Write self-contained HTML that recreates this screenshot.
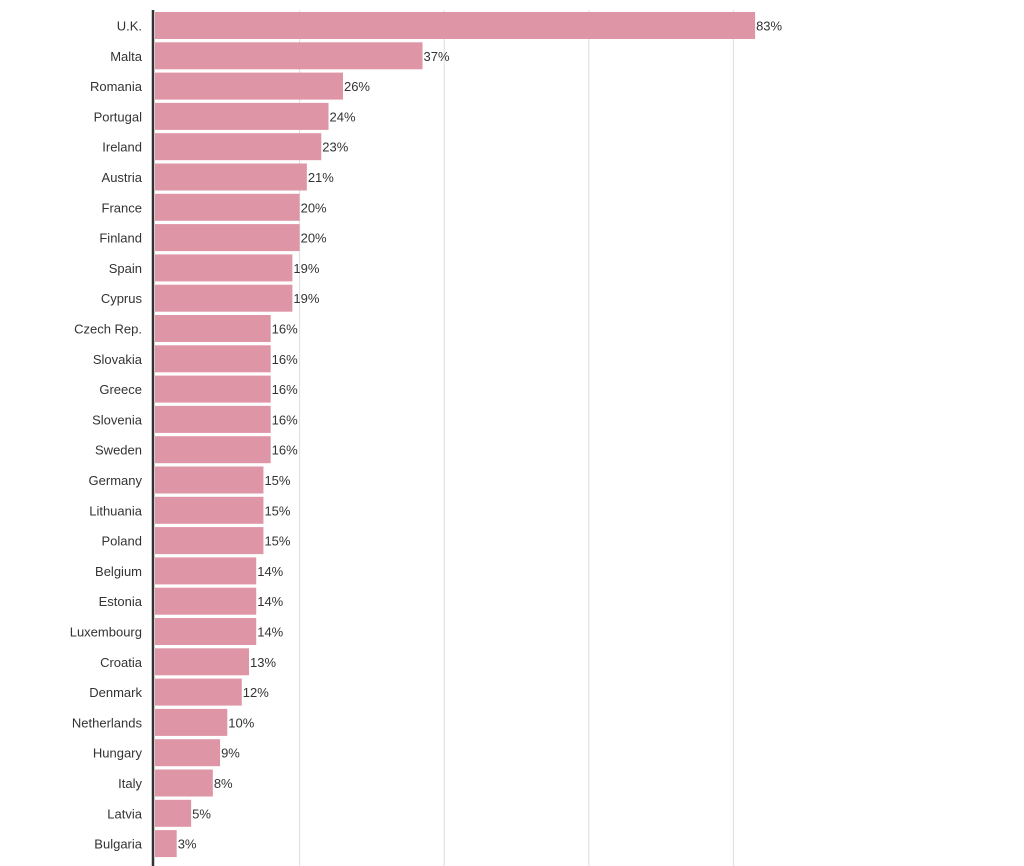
<!DOCTYPE html>
<html><head><meta charset="utf-8"><style>
html,body{margin:0;padding:0;background:#fff;width:1024px;height:866px;overflow:hidden}
svg{display:block}
text{font-family:"Liberation Sans",sans-serif;font-size:13px;fill:#333}
</style></head><body>
<svg id="chart" width="1024" height="866"></svg>
<script>
const categories=["U.K.","Malta","Romania","Portugal","Ireland","Austria","France","Finland","Spain","Cyprus","Czech Rep.","Slovakia","Greece","Slovenia","Sweden","Germany","Lithuania","Poland","Belgium","Estonia","Luxembourg","Croatia","Denmark","Netherlands","Hungary","Italy","Latvia","Bulgaria"];
const values=[83,37,26,24,23,21,20,20,19,19,16,16,16,16,16,15,15,15,14,14,14,13,12,10,9,8,5,3];
const gridTicks=[20,40,60,80];
const NS="http://www.w3.org/2000/svg";
const svg=document.getElementById('chart');
const x0=155,k=7.23,top0=12,pitch=30.3,bh=27;
const xs=v=>x0+v*k;
const ys=i=>top0+i*pitch;
function mk(t,a){const e=document.createElementNS(NS,t);for(const n in a)e.setAttribute(n,a[n]);svg.appendChild(e);return e;}
gridTicks.forEach(t=>{
 const g=mk('line',{x1:xs(t),x2:xs(t),y1:10,y2:866,stroke:'#dcdcdc','stroke-width':1});
 
 
});
categories.forEach((c,i)=>{
 const r=mk('rect',{x:x0,y:ys(i),width:xs(values[i])-x0,height:bh,fill:'#de95a5'});
 
 
 const l=mk('text',{x:142,y:ys(i)+bh/2+5,'text-anchor':'end'});l.textContent=c;
 
 
 const v=mk('text',{x:xs(values[i])+1,y:ys(i)+bh/2+5});v.textContent=values[i]+'%';
 
 
});
const ax=mk('line',{x1:153,x2:153,y1:10,y2:866,stroke:'#333','stroke-width':2.5});


</script>
</body></html>
